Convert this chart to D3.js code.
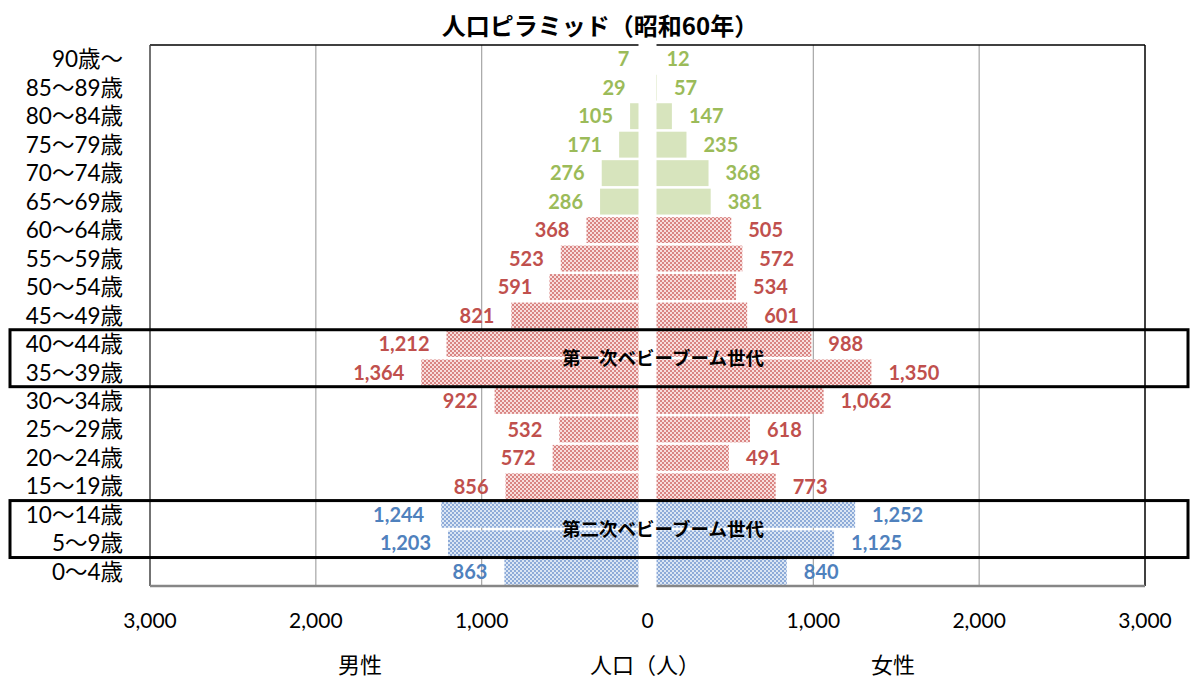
<!DOCTYPE html>
<html><head><meta charset="utf-8">
<script src="https://cdn.jsdelivr.net/npm/d3@7"></script>
<style>
html,body{margin:0;padding:0;background:#fff;}
svg{display:block;}
</style></head>
<body><svg id="chart" width="1190" height="679"></svg>
<script>
const ages = ["90歳～","85～89歳","80～84歳","75～79歳","70～74歳","65～69歳","60～64歳","55～59歳","50～54歳","45～49歳","40～44歳","35～39歳","30～34歳","25～29歳","20～24歳","15～19歳","10～14歳","5～9歳","0～4歳"];
const male = [7,29,105,171,276,286,368,523,591,821,1212,1364,922,532,572,856,1244,1203,863];
const female = [12,57,147,235,368,381,505,572,534,601,988,1350,1062,618,491,773,1252,1125,840];
const groups = ["old","old","old","old","old","old","work","work","work","work","work","work","work","work","work","work","young","young","young"];
const ticks = [-3000,-2000,-1000,0,1000,2000,3000];
const title = "人口ピラミッド（昭和60年）";
const axisLabels = ["男性","人口（人）","女性"];
const boomers = [{label:"第一次ベビーブーム世代", from:"40～44歳", to:"35～39歳"},{label:"第二次ベビーブーム世代", from:"10～14歳", to:"5～9歳"}];

const svg = d3.select("#chart");
const L=150, R=1145, T=45, B=586;
const x = d3.scaleLinear().domain([-3000,3000]).range([L,R]);
const y = d3.scaleBand().domain(ages).range([T,B]).paddingInner(0.09).paddingOuter(0.045);
const step = y.step();

const defs = svg.append("defs");
function checker(id, bg, fg){
  const p = defs.append("pattern").attr("id",id).attr("width",4).attr("height",4).attr("patternUnits","userSpaceOnUse");
  p.append("rect").attr("width",4).attr("height",4).attr("fill",bg);
  p.append("rect").attr("x",0).attr("y",0).attr("width",2).attr("height",2).attr("fill",fg);
  p.append("rect").attr("x",2).attr("y",2).attr("width",2).attr("height",2).attr("fill",fg);
}
checker("pRed","#f8dedd","#d98583");
checker("pBlue","#dbe6f4","#8eabd8");
const fills = {old:"#d7e4bd", work:"url(#pRed)", young:"url(#pBlue)"};
const labelColors = {old:"#9bbb59", work:"#c0504d", young:"#4f81bd"};

// gridlines
svg.append("g").selectAll("line").data(ticks.filter(t=>Math.abs(t)!==3000 && t!==0)).join("line")
  .attr("x1",d=>x(d)).attr("x2",d=>x(d)).attr("y1",T).attr("y2",B)
  .attr("stroke","#a6a6a6").attr("stroke-width",1.2);

// plot border
svg.append("line").attr("x1",L).attr("x2",R).attr("y1",T).attr("y2",T).attr("stroke","#000").attr("stroke-width",1.5);
svg.append("line").attr("x1",L).attr("x2",L).attr("y1",T).attr("y2",B).attr("stroke","#444").attr("stroke-width",1.5);
svg.append("line").attr("x1",R).attr("x2",R).attr("y1",T).attr("y2",B).attr("stroke","#000").attr("stroke-width",1.5);

// bars
const rows = ages.map((a,i)=>({a, m:male[i], f:female[i], g:groups[i]}));
svg.append("g").selectAll("rect.m").data(rows).join("rect")
  .attr("x",d=>x(-d.m)).attr("width",d=>x(0)-x(-d.m))
  .attr("y",d=>y(d.a)).attr("height",y.bandwidth()).attr("fill",d=>fills[d.g]);
svg.append("g").selectAll("rect.f").data(rows).join("rect")
  .attr("x",x(0)).attr("width",d=>x(d.f)-x(0))
  .attr("y",d=>y(d.a)).attr("height",y.bandwidth()).attr("fill",d=>fills[d.g]);

// bottom axis line
svg.append("line").attr("x1",L).attr("x2",R).attr("y1",B).attr("y2",B).attr("stroke","#868686").attr("stroke-width",2.5);

// center gap
svg.append("rect").attr("x",x(0)-9).attr("width",18).attr("y",T-6).attr("height",B-T+10).attr("fill","#fff");

// data labels
const numFont = "Lato, 'Noto Sans CJK JP', sans-serif";
const fmt = d3.format(",");
svg.append("g").selectAll("text").data(rows).join("text")
  .attr("x",d=>x(-d.m)-17).attr("y",d=>y(d.a)+y.bandwidth()/2).attr("dy","0.36em")
  .attr("text-anchor","end").attr("font-family",numFont).attr("font-weight","bold").attr("font-size",20)
  .attr("fill",d=>labelColors[d.g]).text(d=>fmt(d.m));
svg.append("g").selectAll("text").data(rows).join("text")
  .attr("x",d=>x(d.f)+17).attr("y",d=>y(d.a)+y.bandwidth()/2).attr("dy","0.36em")
  .attr("text-anchor","start").attr("font-family",numFont).attr("font-weight","bold").attr("font-size",20)
  .attr("fill",d=>labelColors[d.g]).text(d=>fmt(d.f));

// y labels
svg.append("g").selectAll("text").data(ages).join("text")
  .attr("x",123).attr("y",d=>y(d)+y.bandwidth()/2).attr("dy","0.36em")
  .attr("text-anchor","end").attr("font-family",numFont).attr("font-size",22.5)
  .attr("fill","#000").text(d=>d);

// x tick labels
svg.append("g").selectAll("text").data(ticks).join("text")
  .attr("x",d=>x(d)).attr("y",620).attr("dy","0.36em").attr("text-anchor","middle")
  .attr("font-family",numFont).attr("font-size",21).attr("fill","#000").text(d=>fmt(Math.abs(d)));

// bottom labels
const axLabX = [360, 645, 893];
svg.append("g").selectAll("text").data(axisLabels).join("text")
  .attr("x",(d,i)=>axLabX[i]).attr("y",665).attr("dy","0.36em").attr("text-anchor","middle")
  .attr("font-family","'Noto Sans CJK JP', sans-serif").attr("font-size",22).attr("fill","#000").text(d=>d);

// title
svg.append("text").attr("x",600).attr("y",26).attr("dy","0.36em").attr("text-anchor","middle")
  .attr("font-family","'Noto Sans CJK JP', sans-serif").attr("font-weight","bold").attr("font-size",24)
  .attr("fill","#000").text(title);

// boomer boxes
boomers.forEach(b=>{
  const y0 = y(b.from) - step*y.paddingInner()/2;
  const y1 = y(b.to) + y.bandwidth() + step*y.paddingInner()/2;
  svg.append("rect").attr("x",10).attr("y",y0).attr("width",1178).attr("height",y1-y0)
    .attr("fill","none").attr("stroke","#000").attr("stroke-width",3);
  svg.append("text").attr("x",663).attr("y",(y0+y1)/2).attr("dy","0.36em").attr("text-anchor","middle")
    .attr("font-family","'Noto Sans CJK JP', sans-serif").attr("font-weight","bold").attr("font-size",18.5)
    .attr("fill","#000").text(b.label);
});
</script></body></html>
